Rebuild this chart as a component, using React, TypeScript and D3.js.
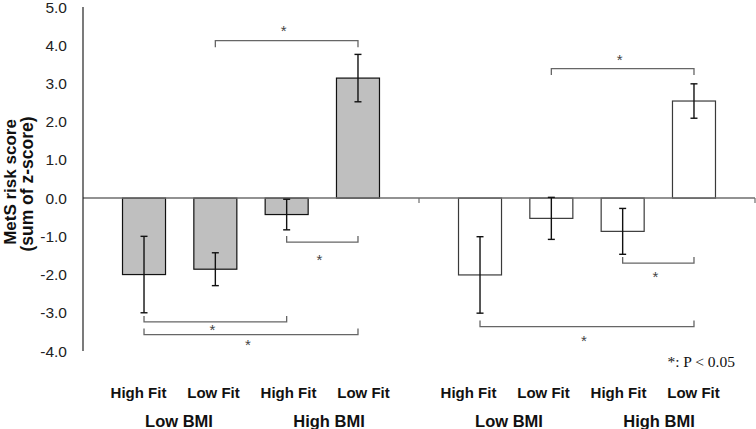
import React from "react";
import * as d3 from "d3";

// ---- data ----
const groups = ["Group A", "Group B"];
const subCategories = ["Low BMI High Fit", "Low BMI Low Fit", "High BMI High Fit", "High BMI Low Fit"];
const fitLabels = ["High Fit", "Low Fit", "High Fit", "Low Fit"];
const bmiLabels = ["Low BMI", "High BMI"];
const groupAMeans = [-2.0, -1.86, -0.43, 3.14];
const groupAErrors = [1.0, 0.43, 0.4, 0.62];
const groupBMeans = [-2.01, -0.53, -0.87, 2.54];
const groupBErrors = [1.0, 0.55, 0.6, 0.45];
const yTicks = [5, 4, 3, 2, 1, 0, -1, -2, -3, -4];
// significance comparisons: [group index, from bar, to bar, bracket level (score units), side]
const comparisons: [number, number, number, number, "up" | "down"][] = [
  [0, 1, 3, 4.12, "up"],
  [0, 2, 3, -1.15, "down"],
  [0, 0, 2, -3.24, "down"],
  [0, 0, 3, -3.57, "down"],
  [1, 1, 3, 3.39, "up"],
  [1, 2, 3, -1.7, "down"],
  [1, 0, 3, -3.36, "down"],
];
const starGaps = [13, 15, 5, 7, 12, 11, 11];
const legendText = "*: P < 0.05";
const yTitle1 = "MetS risk score";
const yTitle2 = "(sum of z-score)";

const W = 756;
const H = 429;

export default function App() {
  const axisX = 83;
  const right = 755;
  const y = d3.scaleLinear().domain([-4, 5]).range([351, 7]);
  const gx = d3.scaleBand<string>().domain(groups).range([axisX, right]).padding(0);
  const bx = d3
    .scaleBand<string>()
    .domain(subCategories)
    .range([0, gx.bandwidth()])
    .paddingInner(0.397)
    .paddingOuter(0.554);
  const bw = bx.bandwidth();
  const center = (g: number, i: number) => (gx(groups[g]) as number) + (bx(subCategories[i]) as number) + bw / 2;
  const means = [groupAMeans, groupBMeans];
  const errs = [groupAErrors, groupBErrors];
  const fills = ["#bfbfbf", "#ffffff"];
  const strokes = ["#111", "#3a3a3a"];
  const y0 = y(0);
  const labelStep = 75;
  const labelShift = [0, -6];
  const starSize = 15;

  const font = "'Liberation Sans', Arial, sans-serif";

  return (
    <svg width={W} height={H} style={{ position: "fixed", left: 0, top: 0, background: "#fff" }}>
      {/* y tick labels */}
      {yTicks.map((t) => (
        <text key={t} x={67} y={y(t)} dy="0.36em" textAnchor="end" fontFamily={font} fontSize={15.5} fill="#222">
          {t.toFixed(1)}
        </text>
      ))}
      {/* y title */}
      <g transform={`translate(16,${182}) rotate(-90)`}>
        <text textAnchor="middle" fontFamily={font} fontWeight="bold" fontSize={17} fill="#111">
          {yTitle1}
        </text>
      </g>
      <g transform={`translate(33,${184}) rotate(-90)`}>
        <text textAnchor="middle" fontFamily={font} fontWeight="bold" fontSize={17.5} fill="#111">
          {yTitle2}
        </text>
      </g>

      {/* bars */}
      {groups.map((g, gi) =>
        means[gi].map((v, i) => {
          const xc = center(gi, i);
          return (
            <rect
              key={`${g}-${i}`}
              x={xc - bw / 2}
              y={Math.min(y(v), y0)}
              width={bw}
              height={Math.abs(y(v) - y0)}
              fill={fills[gi]}
              stroke={strokes[gi]}
              strokeWidth={1.2}
            />
          );
        })
      )}

      {/* zero line and axis */}
      <line x1={axisX} x2={right} y1={y0} y2={y0} stroke="#6e6e6e" strokeWidth={1.5} />
      {[gx(groups[1]) as number, right].map((x, i) => (
        <line key={i} x1={x} x2={x} y1={y0} y2={y0 + 5} stroke="#6e6e6e" strokeWidth={1.2} />
      ))}
      <line x1={axisX} x2={axisX} y1={y(5)} y2={y(-4)} stroke="#222" strokeWidth={1.2} />

      {/* error bars */}
      {groups.map((g, gi) =>
        means[gi].map((v, i) => {
          const xc = center(gi, i);
          const hi = y(v + errs[gi][i]);
          const lo = y(v - errs[gi][i]);
          return (
            <g key={`e-${g}-${i}`} stroke="#111" strokeWidth={1.4}>
              <line x1={xc} x2={xc} y1={hi} y2={lo} />
              <line x1={xc - 3.5} x2={xc + 3.5} y1={hi} y2={hi} />
              <line x1={xc - 3.5} x2={xc + 3.5} y1={lo} y2={lo} />
            </g>
          );
        })
      )}

      {/* significance brackets */}
      {comparisons.map(([g, a, b, lvl, side], k) => {
        const x1 = center(g, a);
        const x2 = center(g, b);
        const yl = y(lvl);
        const tick = side === "up" ? 6.5 : -6;
        const starY = side === "up" ? yl - starGaps[k] : yl + starGaps[k];
        return (
          <g key={`c-${k}`}>
            <path
              d={`M${x1},${yl + tick}V${yl}H${x2}V${yl + tick}`}
              fill="none"
              stroke="#666"
              strokeWidth={1.3}
            />
            <text
              x={(x1 + x2) / 2 - 3}
              y={starY + 0.55 * starSize}
              textAnchor="middle"
              fontFamily={font}
              fontSize={starSize}
              fill="#444"
            >
              *
            </text>
          </g>
        );
      })}

      {/* legend */}
      <text x={735} y={367} textAnchor="end" fontFamily="'Liberation Serif', 'Times New Roman', serif" fontSize={15.5} fill="#111">
        {legendText}
      </text>

      {/* category labels */}
      {groups.map((g, gi) => {
        const gc = (gx(g) as number) + gx.bandwidth() / 2 + labelShift[gi];
        const lx = (i: number) => gc + (i - 1.5) * labelStep;
        return (
          <g key={`l-${g}`}>
            {fitLabels.map((t, i) => (
              <text key={i} x={lx(i)} y={397.5} textAnchor="middle" fontFamily={font} fontWeight="bold" fontSize={15} fill="#111">
                {t}
              </text>
            ))}
            {bmiLabels.map((t, j) => (
              <text
                key={`b${j}`}
                x={(lx(2 * j) + lx(2 * j + 1)) / 2 + 3}
                y={426.5}
                textAnchor="middle"
                fontFamily={font}
                fontWeight="bold"
                fontSize={16.5}
                fill="#111"
              >
                {t}
              </text>
            ))}
          </g>
        );
      })}
    </svg>
  );
}
